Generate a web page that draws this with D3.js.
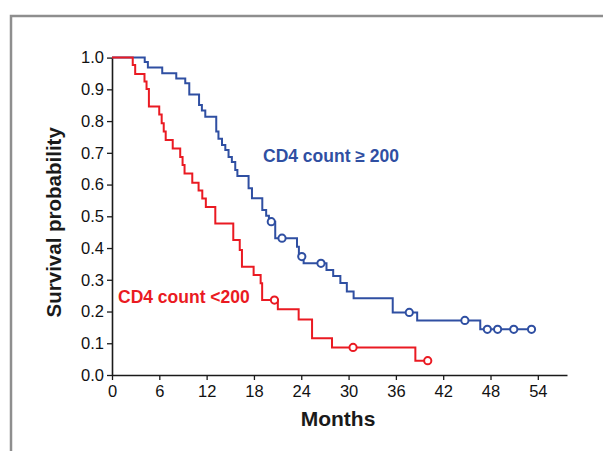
<!DOCTYPE html>
<html>
<head>
<meta charset="utf-8">
<script src="https://cdn.jsdelivr.net/npm/d3@7"></script>
<style>
  body { margin: 0; background: #fff; }
  svg { display: block; font-family: "Liberation Sans", Arial, Helvetica, sans-serif; }
</style>
</head>
<body>
<svg id="chart" width="603" height="451"></svg>
<script>
// x ticks (months) and y ticks (survival probability)
const monthTicks = [0, 6, 12, 18, 24, 30, 36, 42, 48, 54];
const survTicks = [0, 0.1, 0.2, 0.3, 0.4, 0.5, 0.6, 0.7, 0.8, 0.9, 1.0];

// CD4 count >= 200 : event times and survival after each drop
const highTimes = [4.15, 4.55, 6.37, 8.15, 9.29, 9.8, 11.04, 11.4, 11.83, 13.22, 13.5, 13.95, 14.37, 14.78, 15.2, 15.63, 15.9,
  17.32, 17.75, 19.06, 19.55, 19.9, 20.7, 23.46, 23.7, 24.3, 27.2, 28.05, 28.96, 29.78, 30.64, 35.6, 38.7, 46.7];
const highSurv = [0.986, 0.969, 0.951, 0.934, 0.919, 0.884, 0.851, 0.833, 0.814, 0.767, 0.744, 0.725, 0.709, 0.687, 0.671, 0.646, 0.627,
  0.588, 0.557, 0.520, 0.502, 0.483, 0.431, 0.404, 0.373, 0.352, 0.331, 0.312, 0.290, 0.263, 0.242, 0.197, 0.172, 0.144];
const highCensored = [20.2, 21.56, 24.07, 26.5, 37.7, 44.75, 47.6, 48.9, 50.95, 53.2];

// CD4 count < 200
const lowTimes = [2.63, 2.94, 4.12, 4.38, 4.68, 5.99, 6.3, 6.56, 6.81, 7.7, 8.65, 8.95, 9.2, 10.18, 10.98, 11.45, 11.9,
  13.1, 15.38, 16.2, 16.48, 17.96, 18.85, 19.04, 21.03, 23.67, 25.37, 27.9, 38.47];
const lowSurv = [0.977, 0.948, 0.925, 0.901, 0.846, 0.821, 0.793, 0.767, 0.740, 0.714, 0.687, 0.662, 0.635, 0.606, 0.581, 0.556, 0.529,
  0.477, 0.425, 0.394, 0.341, 0.315, 0.289, 0.236, 0.207, 0.175, 0.116, 0.087, 0.045];
const lowCensored = [20.6, 30.57, 40.04];

const svg = d3.select('#chart');

//外框
svg.append('rect')
  .attr('x', 11).attr('y', 16)
  .attr('width', 640).attr('height', 480)
  .attr('fill', 'none')
  .attr('stroke', '#8e8e8e')
  .attr('stroke-width', 2.5);

const x = d3.scaleLinear().domain([0, 57.7]).range([112, 567]);
const y = d3.scaleLinear().domain([0, 1]).range([375, 57.6]);

// axes
const xAxis = svg.append('g')
  .attr('transform', `translate(0,${y(0)})`)
  .call(d3.axisBottom(x).tickValues(monthTicks).tickSize(5).tickSizeOuter(0).tickPadding(5));
const yAxis = svg.append('g')
  .attr('transform', `translate(${x(0)},0)`)
  .call(d3.axisLeft(y).tickValues(survTicks).tickFormat(d3.format('.1f')).tickSize(5).tickSizeOuter(0).tickPadding(3));

for (let g of [xAxis, yAxis]) {
  g.attr('font-size', 16.5).attr('font-family', '"Liberation Sans", Arial, sans-serif');
  g.select('.domain').attr('stroke', '#1a1a1a').attr('stroke-width', 1.6);
  g.selectAll('.tick line').attr('stroke', '#1a1a1a').attr('stroke-width', 1.3);
  g.selectAll('.tick text').attr('fill', '#111');
}

// step function helper
function stepAt(times, surv, t) {
  let s = 1;
  for (let i = 0; i < times.length; i++) if (times[i] <= t) s = surv[i];
  return s;
}

function drawCurve(times, surv, censored, color) {
  let end = Math.max(times[times.length - 1], censored[censored.length - 1]);
  let pts = [[0, 1]].concat(times.map((t, i) => [t, surv[i]]));
  pts.push([end, surv[surv.length - 1]]);

  svg.append('path')
    .attr('d', d3.line().x((d) => x(d[0])).y((d) => y(d[1])).curve(d3.curveStepAfter)(pts))
    .attr('fill', 'none')
    .attr('stroke', color)
    .attr('stroke-width', 2);

  svg.append('g').selectAll('circle')
    .data(censored)
    .enter()
    .append('circle')
    .attr('cx', (d) => x(d))
    .attr('cy', (d) => y(stepAt(times, surv, d)))
    .attr('r', 3.6)
    .attr('fill', '#fff')
    .attr('stroke', color)
    .attr('stroke-width', 2);
}

drawCurve(highTimes, highSurv, highCensored, '#2f4fa2');
drawCurve(lowTimes, lowSurv, lowCensored, '#ea1a22');

// labels
svg.append('text')
  .attr('x', 263).attr('y', 162)
  .attr('fill', '#2f4fa2')
  .attr('font-size', 17.5)
  .attr('font-weight', 'bold')
  .text('CD4 count \u2265 200');

svg.append('text')
  .attr('x', 118).attr('y', 303)
  .attr('fill', '#ea1a22')
  .attr('font-size', 17.5)
  .attr('font-weight', 'bold')
  .text('CD4 count <200');

svg.append('text')
  .attr('x', 338).attr('y', 426)
  .attr('text-anchor', 'middle')
  .attr('fill', '#1a1a1a')
  .attr('font-size', 21)
  .attr('font-weight', 'bold')
  .text('Months');

svg.append('text')
  .attr('transform', `translate(61,${(y(0) + y(1)) / 2 + 6}) rotate(-90)`)
  .attr('text-anchor', 'middle')
  .attr('fill', '#1a1a1a')
  .attr('font-size', 20.5)
  .attr('font-weight', 'bold')
  .text('Survival probability');
</script>
</body>
</html>
